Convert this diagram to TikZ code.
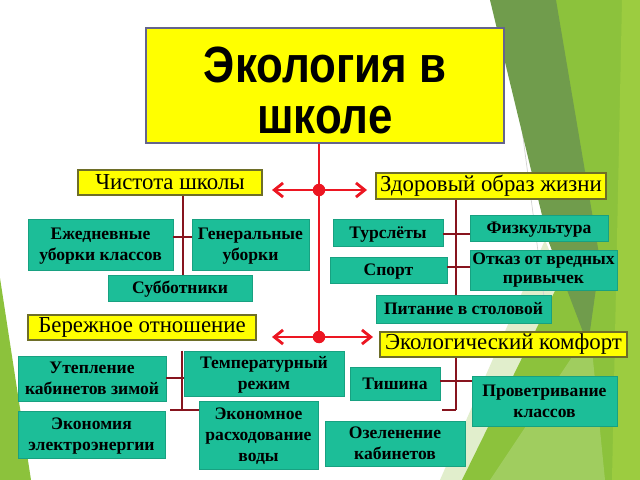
\documentclass[tikz,border=0pt]{standalone}
\usepackage{fontspec}
\setmainfont{Liberation Serif}
\newfontfamily\titlefont[FakeStretch=0.86]{Liberation Sans}
\usetikzlibrary{arrows.meta,calc}
\definecolor{tealc}{RGB}{28,190,152}
\definecolor{yell}{RGB}{255,255,0}
\definecolor{ybord}{RGB}{110,110,40}
\definecolor{tbord}{RGB}{100,100,140}
\definecolor{redc}{RGB}{236,22,34}
\definecolor{dred}{RGB}{135,20,30}
\definecolor{olive}{RGB}{112,156,76}
\definecolor{lime}{RGB}{140,194,60}
\definecolor{lime2}{RGB}{156,204,64}
\definecolor{pale}{RGB}{205,228,170}
\newcommand\tb[1]{\begin{tabular}{@{}c@{}}\rule{0pt}{10pt}#1\end{tabular}}
\tikzset{
  rect/.style args={#1/#2/#3/#4}{minimum width={(#3-#1)*0.02cm}, minimum height={(#4-#2)*0.02cm},
    at={(0.5*#1+0.5*#3,0.5*#2+0.5*#4)}},
  tbox/.style={fill=tealc, draw=tealc!85!black, line width=0.3pt, inner sep=0pt,
    font=\bfseries\fontsize{10}{12}\selectfont, text=black},
  ybox/.style={fill=yell, draw=ybord, line width=0.6pt, inner sep=0pt,
    font=\fontsize{13}{15}\selectfont, text=black},
  titlebox/.style={fill=yell, draw=tbord, line width=1.7pt, inner sep=0pt,
    font=\titlefont\bfseries\fontsize{29}{29}\selectfont},
  redline/.style={draw=redc, line width=1.7pt},
  redarrow/.style={draw=redc, line width=1.6pt,
    {Straight Barb[length=5pt,width=8pt]}-{Straight Barb[length=5pt,width=8pt]}},
  dline/.style={draw=dred, line width=1.1pt},
}
\begin{document}
\begin{tikzpicture}[x=0.02cm,y=-0.02cm]
\useasboundingbox (0,0) rectangle (640,480);
\fill[white] (0,0) rectangle (640,480);
% background facets
\fill[pale, opacity=0.6] (545,240) -- (590,350) -- (500,480) -- (440,480) -- cycle;
\draw[gray!35, line width=0.4pt] (505,0) -- (568,480);
\fill[lime] (556,0) -- (640,0) -- (640,480) -- (462,480) -- (580,240) -- (560,140) -- cycle;
\fill[lime2] (622,0) -- (640,0) -- (640,480) -- (612,480) -- cycle;
\fill[white, opacity=0.18] (590,330) -- (605,480) -- (490,480) -- cycle;
\fill[olive] (490,0) -- (556,0) -- (600,260) -- (588,345) -- (548,240) -- cycle;
\fill[lime] (0,278) -- (0,480) -- (31,480) -- cycle;

% title
\node[titlebox, rect=146/28/504/143] (title)
  {\raisebox{-6.9pt}[\height][\depth]{\begin{tabular}{@{}c@{}}Экология в\\школе\end{tabular}}};

% headings
\node[ybox, rect=78/170/262/195] (chist) {Чистота школы};
\node[ybox, rect=376/173/606/199] (zdor) {Здоровый образ жизни};
\node[ybox, rect=28/315/256/340] (berezh) {Бережное отношение};
\node[ybox, rect=380/332/627/357] (ekokom) {Экологический комфорт};

% teal boxes
\node[tbox, rect=28/219/173/270] (ezhed) {\tb{Ежедневные\\уборки классов}};
\node[tbox, rect=192/219/309/270] (gen) {\tb{Генеральные\\уборки}};
\node[tbox, rect=108/275/252/301] (subb) {\tb{Субботники}};
\node[tbox, rect=333/219/443/246] (turs) {\tb{Турслёты}};
\node[tbox, rect=470/215/608/241] (fizk) {\tb{Физкультура}};
\node[tbox, rect=330/257/447/283] (sport) {\tb{Спорт}};
\node[tbox, rect=470/250/617/290, font=\bfseries\fontsize{10}{11}\selectfont] (otkaz)
  {\begin{tabular}{@{}c@{}}Отказ от вредных\\привычек\end{tabular}};
\node[tbox, rect=376/295/551/323] (pitan) {\tb{Питание в столовой}};
\node[tbox, rect=18/356/166/401] (utepl) {\tb{Утепление\\кабинетов зимой}};
\node[tbox, rect=184/351/344/396] (temp) {\tb{Температурный\\режим}};
\node[tbox, rect=18/411/165/458] (ekonom) {\tb{Экономия\\электроэнергии}};
\node[tbox, rect=199/401/318/469] (ekvoda) {\tb{Экономное\\расходование\\воды}};
\node[tbox, rect=350/367/440/400] (tish) {\tb{Тишина}};
\node[tbox, rect=472/376/617/426] (provet) {\tb{Проветривание\\классов}};
\node[tbox, rect=325/422/465/465] (ozel) {\tb{Озеленение\\кабинетов}};

% red connectors
\coordinate (j1) at (319,190);
\coordinate (j2) at (319,337);
\coordinate (a1l) at (272,190);
\coordinate (a1r) at (367,190);
\coordinate (a2l) at (272,337);
\coordinate (a2r) at (373,337);
\draw[redline] (title.south -| j1) -- (j2);
\draw[redarrow] (a1l) -- (a1r);
\draw[redarrow] (a2l) -- (a2r);
\fill[redc] (j1) circle[radius=0.125cm];
\fill[redc] (j2) circle[radius=0.125cm];

% dark red branch lines
\coordinate (v1) at (183,0);
\coordinate (h1) at (0,237);
\draw[dline] (chist.south -| v1) -- (subb.north -| v1);
\draw[dline] (ezhed.east |- h1) -- (gen.west |- h1);

\coordinate (v2) at (456,0);
\coordinate (h2) at (0,234);
\coordinate (h3) at (0,267);
\draw[dline] (zdor.south -| v2) -- (pitan.north -| v2);
\draw[dline] (turs.east |- h2) -- (fizk.west |- h2);
\draw[dline] (sport.east |- h3) -- (otkaz.west |- h3);

\coordinate (v3) at (182,0);
\coordinate (h4) at (0,378);
\coordinate (h5) at (0,410);
\coordinate (e5) at (170,410);
\draw[dline] (berezh.south -| v3) ++(0,10) -- (h5 -| v3);
\draw[dline] (utepl.east |- h4) -- (temp.west |- h4);
\draw[dline] (e5) -- (ekvoda.west |- h5);

\coordinate (v4) at (456,0);
\coordinate (h6) at (0,381);
\coordinate (h7) at (0,410);
\coordinate (e7) at (442,410);
\draw[dline] (ekokom.south -| v4) -- (h7 -| v4);
\draw[dline] (tish.east |- h6) -- (provet.west |- h6);
\draw[dline] (e7) -- (h7 -| v4);
\end{tikzpicture}
\end{document}
